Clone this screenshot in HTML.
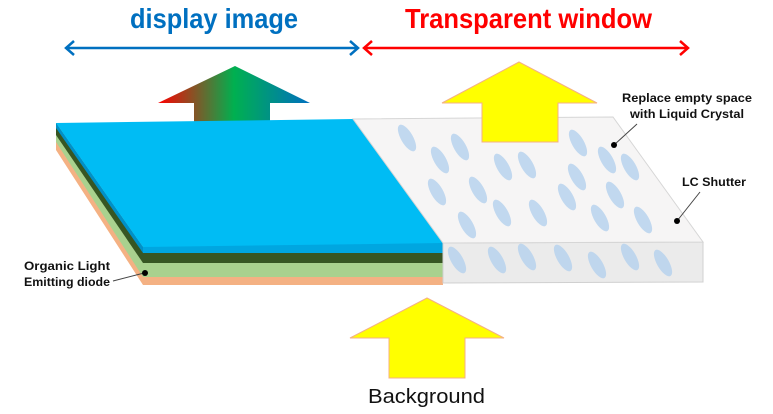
<!DOCTYPE html>
<html><head><meta charset="utf-8"><style>
html,body{margin:0;padding:0;background:#fff;}
svg{display:block;}
text{font-family:"Liberation Sans",sans-serif;}
</style></head><body>
<svg width="773" height="414" viewBox="0 0 773 414" xmlns="http://www.w3.org/2000/svg">
<defs>
<linearGradient id="rgb" x1="158" y1="0" x2="310" y2="0" gradientUnits="userSpaceOnUse">
<stop offset="0" stop-color="#ff0000"/><stop offset="0.5" stop-color="#00b050"/><stop offset="1" stop-color="#0070c0"/>
</linearGradient>
</defs>
<text x="130" y="28" font-size="28" font-weight="bold" fill="#0070c0" textLength="168" lengthAdjust="spacingAndGlyphs">display image</text>
<text x="405" y="28" font-size="28" font-weight="bold" fill="#ff0000" textLength="247" lengthAdjust="spacingAndGlyphs">Transparent window</text>
<g stroke="#0070c0" stroke-width="2.5" fill="none">
<line x1="66" y1="48" x2="358" y2="48"/>
<polyline points="74,41 66,48 74,55"/><polyline points="350,41 358,48 350,55"/>
</g>
<g stroke="#ff0000" stroke-width="2.5" fill="none">
<line x1="364" y1="48" x2="688" y2="48"/>
<polyline points="372,41 364,48 372,55"/><polyline points="680,41 688,48 680,55"/>
</g>
<polygon points="235,66 310,103 270,103 270,145 194,145 194,103 158,103" fill="url(#rgb)"/>
<polygon points="56,123 143,247 143,285 56,150" fill="#f4b183"/>
<polygon points="56,123 143,247 143,277 56,142" fill="#a9d18e"/>
<polygon points="56,123 143,247 143,263 56,135" fill="#375623"/>
<polygon points="56,123 143,247 143,253 56,128" fill="#0090c8"/>
<rect x="143" y="243" width="300" height="42" fill="#f4b183"/>
<rect x="143" y="243" width="300" height="34" fill="#a9d18e"/>
<rect x="143" y="243" width="300" height="20" fill="#375623"/>
<rect x="143" y="243" width="300" height="10" fill="#00a6e0"/>
<polygon points="56,123 353,119 443,243 143,247" fill="#00bcf4"/>
<polygon points="443,243 703,242 703,282 443,283" fill="#ebebeb" stroke="#d0d0d0" stroke-width="1"/>
<polygon points="353,119 613,117 703,242 443,243" fill="#f6f5f5" stroke="#d6d6d6" stroke-width="1"/>
<g fill="#b5d2ee" opacity="0.8">
<ellipse cx="407" cy="138" rx="6" ry="15" transform="rotate(-30 407 138)"/>
<ellipse cx="440" cy="160" rx="6" ry="15" transform="rotate(-30 440 160)"/>
<ellipse cx="460" cy="147" rx="6" ry="15" transform="rotate(-30 460 147)"/>
<ellipse cx="503" cy="167" rx="6" ry="15" transform="rotate(-30 503 167)"/>
<ellipse cx="527" cy="165" rx="6" ry="15" transform="rotate(-30 527 165)"/>
<ellipse cx="578" cy="143" rx="6" ry="15" transform="rotate(-30 578 143)"/>
<ellipse cx="607" cy="160" rx="6" ry="15" transform="rotate(-30 607 160)"/>
<ellipse cx="630" cy="167" rx="6" ry="15" transform="rotate(-30 630 167)"/>
<ellipse cx="437" cy="192" rx="6" ry="15" transform="rotate(-30 437 192)"/>
<ellipse cx="478" cy="190" rx="6" ry="15" transform="rotate(-30 478 190)"/>
<ellipse cx="577" cy="177" rx="6" ry="15" transform="rotate(-30 577 177)"/>
<ellipse cx="567" cy="197" rx="6" ry="15" transform="rotate(-30 567 197)"/>
<ellipse cx="615" cy="195" rx="6" ry="15" transform="rotate(-30 615 195)"/>
<ellipse cx="502" cy="213" rx="6" ry="15" transform="rotate(-30 502 213)"/>
<ellipse cx="538" cy="213" rx="6" ry="15" transform="rotate(-30 538 213)"/>
<ellipse cx="600" cy="218" rx="6" ry="15" transform="rotate(-30 600 218)"/>
<ellipse cx="643" cy="220" rx="6" ry="15" transform="rotate(-30 643 220)"/>
<ellipse cx="467" cy="225" rx="6" ry="15" transform="rotate(-30 467 225)"/>
<ellipse cx="457" cy="260" rx="6" ry="15" transform="rotate(-30 457 260)"/>
<ellipse cx="497" cy="260" rx="6" ry="15" transform="rotate(-30 497 260)"/>
<ellipse cx="527" cy="257" rx="6" ry="15" transform="rotate(-30 527 257)"/>
<ellipse cx="563" cy="258" rx="6" ry="15" transform="rotate(-30 563 258)"/>
<ellipse cx="597" cy="265" rx="6" ry="15" transform="rotate(-30 597 265)"/>
<ellipse cx="630" cy="257" rx="6" ry="15" transform="rotate(-30 630 257)"/>
<ellipse cx="663" cy="263" rx="6" ry="15" transform="rotate(-30 663 263)"/>
</g>
<polygon points="519,62 597,103 558,103 558,142 482,142 482,103 442,103" fill="#ffff00" stroke="#f4b183" stroke-width="1"/>
<polygon points="427,298 504,338 465,338 465,378 389,378 389,338 350,338" fill="#ffff00" stroke="#f4b183" stroke-width="1"/>
<text x="368" y="403" font-size="20" fill="#111" textLength="117" lengthAdjust="spacingAndGlyphs">Background</text>
<g font-size="12" font-weight="bold" fill="#111">
<text x="622" y="102" textLength="130" lengthAdjust="spacingAndGlyphs">Replace empty space</text>
<text x="630" y="118" textLength="114" lengthAdjust="spacingAndGlyphs">with Liquid Crystal</text>
<text x="682" y="186" textLength="64" lengthAdjust="spacingAndGlyphs">LC Shutter</text>
<text x="24" y="270" textLength="86" lengthAdjust="spacingAndGlyphs">Organic Light</text>
<text x="24" y="286" textLength="86" lengthAdjust="spacingAndGlyphs">Emitting diode</text>
</g>
<g stroke="#444" stroke-width="1">
<line x1="614" y1="145" x2="637" y2="124"/>
<line x1="677" y1="221" x2="700" y2="192"/>
<line x1="144" y1="273" x2="113" y2="281"/>
</g>
<g fill="#000">
<circle cx="614" cy="145" r="3"/>
<circle cx="677" cy="221" r="3"/>
<circle cx="145" cy="273" r="3"/>
</g>
</svg>
</body></html>
